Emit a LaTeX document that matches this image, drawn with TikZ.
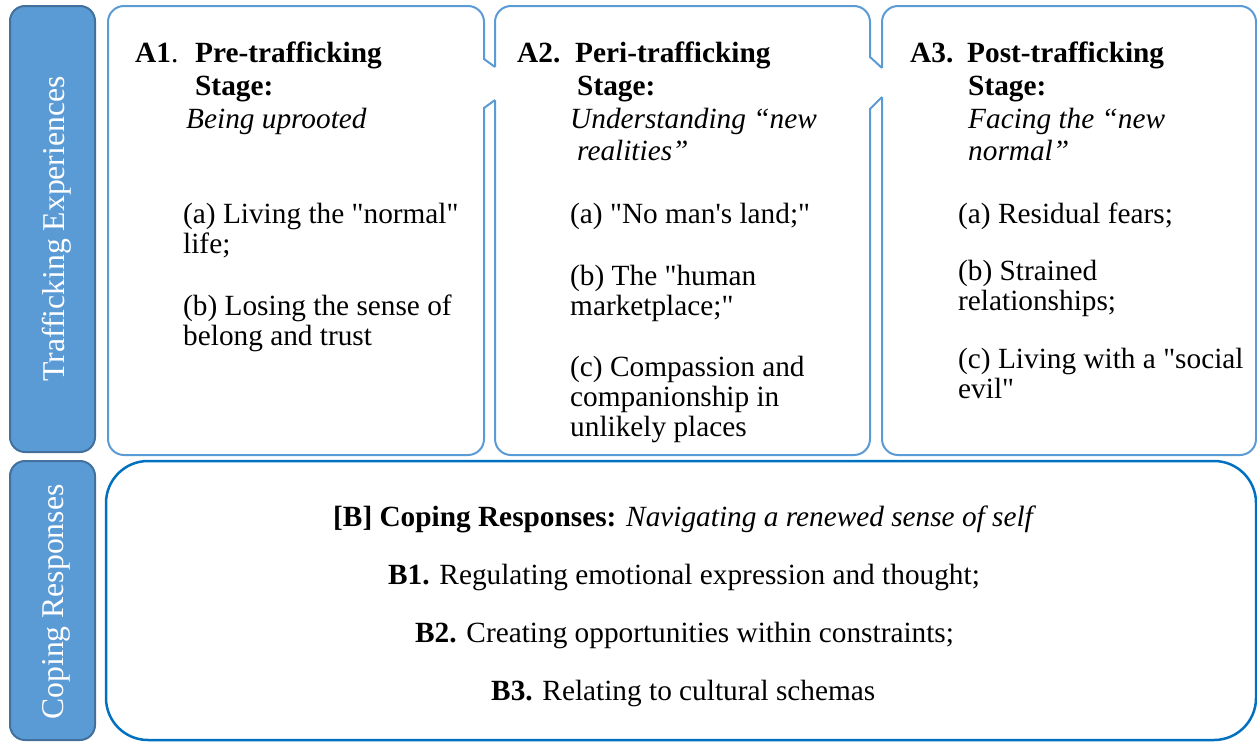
\documentclass[tikz,border=0pt]{standalone}
\usepackage{fontspec}
\usepackage{tikz}
\newfontfamily\tnr{Liberation Serif}
\definecolor{barfill}{HTML}{5B9BD5}
\definecolor{bardraw}{HTML}{41719C}
\definecolor{stageline}{HTML}{5B9BD5}
\definecolor{copeline}{HTML}{0070C0}

\begin{document}
\begin{tikzpicture}[x=1pt, y=-1pt, bar/.style={draw=bardraw, fill=barfill, line width=2pt, rounded corners=15pt, inner sep=0pt}, stage/.style={draw=stageline, line width=2pt, rounded corners=16pt, inner sep=0pt}, cope/.style={draw=copeline, line width=2.5pt, rounded corners=42pt, inner sep=0pt}, side/.style={rotate=90, text=white, font=\tnr\fontsize{31.7}{34}\selectfont}, txt/.style={anchor=base west, inner sep=0pt, font=\tnr\fontsize{29.3}{30}\selectfont}, notch/.style={draw=stageline, line width=2pt, line join=round}]
                \useasboundingbox (0,0) rectangle (1257,742);
                % side bars
                \node[bar, minimum width=85pt, minimum height=446pt] (bar1) at (52.5,229) {};
                \node[bar, minimum width=85pt, minimum height=279pt] (bar2) at (52.5,600.5) {};
                \node[side] (bar1t) at (56.5,229) {Trafficking Experiences};
                \node[side] (bar2t) at (56.5,602) {Coping Responses};
                % stage boxes
                \node[stage, minimum width=376pt, minimum height=449pt] (A1) at (296,230.5) {};
                \node[stage, minimum width=375pt, minimum height=449pt] (A2) at (682.5,230.5) {};
                \node[stage, minimum width=374pt, minimum height=449pt] (A3) at (1069,230.5) {};
                % joins between the stage boxes
                \fill[white] (481,60) rectangle (487,107);
                \fill[white] (492,67) rectangle (498,100);
                \fill[white] (867,58) rectangle (873,108);
                \fill[white] (879,68) rectangle (885,97);
                \draw[notch] (484,59) -- (495,67);
                \draw[notch] (495,100) -- (484,108);
                \draw[notch] (870,57) -- (882,68);
                \draw[notch] (882,97) -- (870,109);
                % coping box
                \node[cope, minimum width=1150pt, minimum height=279pt] (B) at (681,600.5) {};
                % A1 text
                \node[txt] (A1n) at (135,62) {\textbf{A1}.};
                \node[txt] (A1h) at (195,62) {\textbf{Pre-trafficking}};
                \node[txt] (A1s) at (195,95) {\textbf{Stage:}};
                \node[txt] (A1i) at (186,128) {\textit{Being uprooted}};
                \node[txt] (A1a) at (183,223) {(a) Living the "normal"};
                \node[txt] (A1a2) at (183,253) {life;};
                \node[txt] (A1b) at (183,315) {(b) Losing the sense of};
                \node[txt] (A1b2) at (183,345) {belong and trust};
                % A2 text
                \node[txt] (A2n) at (517,62) {\textbf{A2.}};
                \node[txt] (A2h) at (575,62) {\textbf{Peri-trafficking}};
                \node[txt] (A2s) at (577,95) {\textbf{Stage:}};
                \node[txt] (A2i) at (570,128) {\textit{Understanding “new}};
                \node[txt] (A2i2) at (577,160) {\textit{realities”}};
                \node[txt] (A2a) at (570,223) {(a) "No man's land;"};
                \node[txt] (A2b) at (570,285) {(b) The "human};
                \node[txt] (A2b2) at (570,315) {marketplace;"};
                \node[txt] (A2c) at (570,376) {(c) Compassion and};
                \node[txt] (A2c2) at (570,406) {companionship in};
                \node[txt] (A2c3) at (570,436) {unlikely places};
                % A3 text
                \node[txt] (A3n) at (910,62) {\textbf{A3.}};
                \node[txt] (A3h) at (967,62) {\textbf{Post-trafficking}};
                \node[txt] (A3s) at (968,95) {\textbf{Stage:}};
                \node[txt] (A3i) at (968,128) {\textit{Facing the “new}};
                \node[txt] (A3i2) at (968,160) {\textit{normal”}};
                \node[txt] (A3a) at (958,223) {(a) Residual fears;};
                \node[txt] (A3b) at (958,280) {(b) Strained};
                \node[txt] (A3b2) at (958,310) {relationships;};
                \node[txt] (A3c) at (958,368) {(c) Living with a "social};
                \node[txt] (A3c2) at (958,398) {evil"};
                % B text
                \node[txt] (Bh) at (333,526) {\textbf{[B] Coping Responses:} \textit{Navigating a renewed sense of self}};
                \node[txt] (B1) at (388,584) {\textbf{B1.} Regulating emotional expression and thought;};
                \node[txt] (B2) at (415,642) {\textbf{B2.} Creating opportunities within constraints;};
                \node[txt] (B3) at (491,700) {\textbf{B3.} Relating to cultural schemas};
            \end{tikzpicture}
\end{document}
